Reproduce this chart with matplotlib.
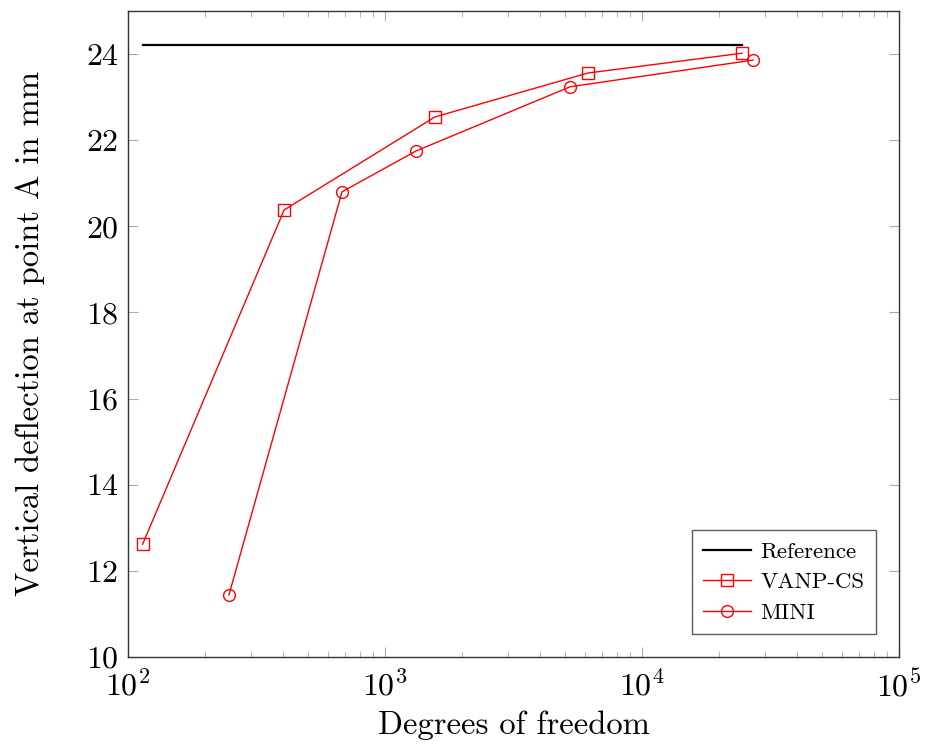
import matplotlib
matplotlib.use("Agg")
import matplotlib.pyplot as plt
from matplotlib.ticker import LogLocator, FixedLocator

plt.rcParams['font.family'] = ['cmr10', 'DejaVu Serif']
plt.rcParams['mathtext.fontset'] = 'cm'
plt.rcParams['axes.unicode_minus'] = False

# data
ref_x = [114, 24500]
ref_y = [24.2, 24.2]

vanp_x = [114, 405, 1565, 6160, 24500]
vanp_y = [12.62, 20.38, 22.54, 23.56, 24.02]

mini_x = [247, 680, 1321, 5248, 27040]
mini_y = [11.44, 20.80, 21.75, 23.24, 23.86]

y_ticks = [10, 12, 14, 16, 18, 20, 22, 24]

fig = plt.figure(figsize=(9.25, 7.48), dpi=100)
ax = fig.add_axes([0.1384, 0.1217, 0.8335, 0.8636])

ax.plot(ref_x, ref_y, color='black', lw=1.6, label='Reference')
ax.plot(vanp_x, vanp_y, color='red', lw=1.0, marker='s', markersize=8,
        markerfacecolor='none', markeredgewidth=1.0, label='VANP-CS')
ax.plot(mini_x, mini_y, color='red', lw=1.0, marker='o', markersize=8.5,
        markerfacecolor='none', markeredgewidth=1.0, label='MINI')

ax.set_xscale('log')
ax.set_xlim(100, 1e5)
ax.set_ylim(10, 25)
ax.yaxis.set_major_locator(FixedLocator(y_ticks))
ax.xaxis.set_major_locator(LogLocator(base=10))
ax.xaxis.set_minor_locator(LogLocator(base=10, subs=range(2, 10)))

for s in ax.spines.values():
    s.set_color('#333333')
    s.set_linewidth(1.0)

ax.tick_params(which='both', direction='in', top=True, right=True,
               color='#aaaaaa', labelsize=23)
ax.tick_params(which='major', length=7, width=0.8)
ax.tick_params(which='minor', length=4, width=0.6)
ax.tick_params(axis='x', pad=9)
ax.tick_params(axis='y', pad=7)

ax.set_xlabel('Degrees of freedom', fontsize=23.5, labelpad=6)
ax.set_ylabel('Vertical deflection at point A in mm', fontsize=23.5, labelpad=30)

leg = ax.legend(loc='lower right', fontsize=16.5, frameon=True, fancybox=False,
                borderaxespad=1.0, handlelength=2.1, borderpad=0.5,
                labelspacing=0.45, handletextpad=0.4)
leg.get_frame().set_edgecolor('#333333')
leg.get_frame().set_linewidth(1.0)

fig.savefig('out.png', dpi=100)
